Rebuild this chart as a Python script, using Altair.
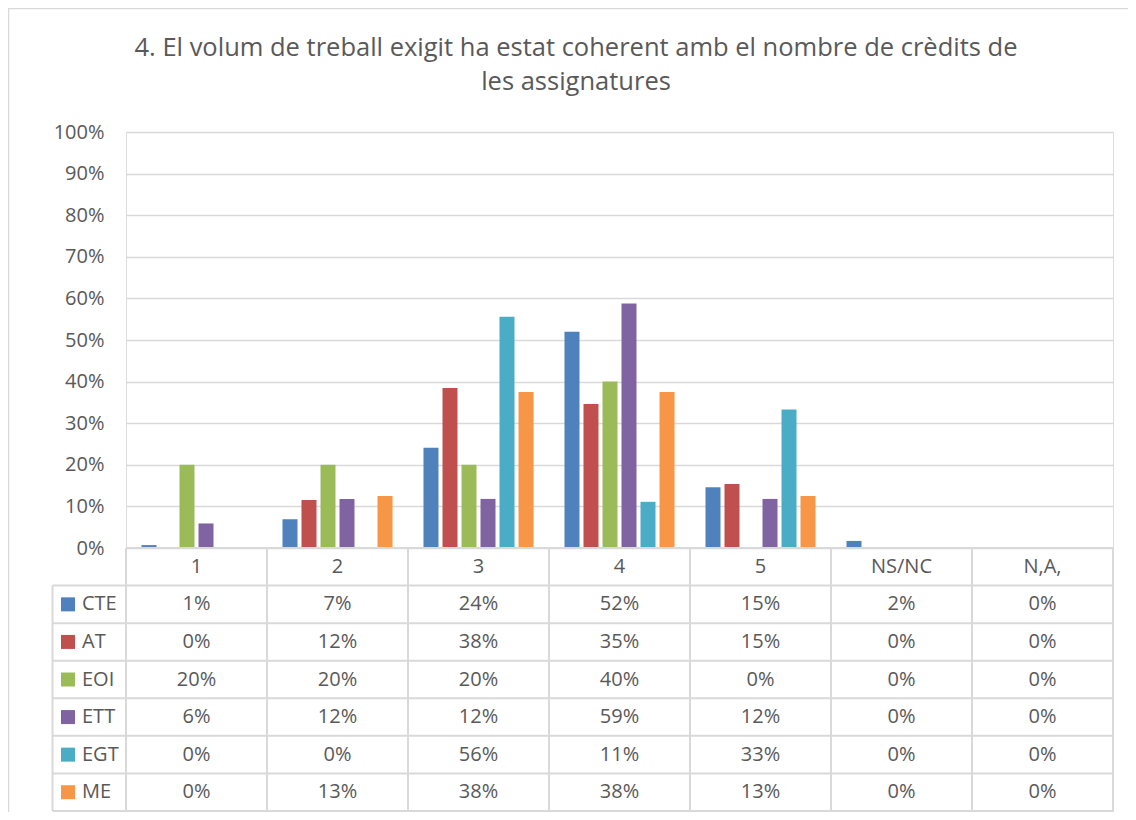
import altair as alt
import pandas as pd

# ---- data ----
categories = ["1", "2", "3", "4", "5", "NS/NC", "N,A,"]
series = ["CTE", "AT", "EOI", "ETT", "EGT", "ME"]
colors = ["#4F81BD", "#C0504D", "#9BBB59", "#8064A2", "#4BACC6", "#F79646"]

cte = [0.7, 6.9, 24.1, 52.0, 14.6, 1.7, 0.0]
at = [0.0, 11.54, 38.46, 34.62, 15.38, 0.0, 0.0]
eoi = [20.0, 20.0, 20.0, 40.0, 0.0, 0.0, 0.0]
ett = [5.9, 11.8, 11.8, 58.8, 11.8, 0.0, 0.0]
egt = [0.0, 0.0, 55.6, 11.1, 33.3, 0.0, 0.0]
me = [0.0, 12.5, 37.5, 37.5, 12.5, 0.0, 0.0]

title_lines = [
    "4. El volum de treball exigit ha estat coherent amb el nombre de crèdits de",
    "les assignatures",
]
y_ticks = [0, 0.1, 0.2, 0.3, 0.4, 0.5, 0.6, 0.7, 0.8, 0.9, 1.0]

# ---- tables built from the arrays ----
values_by_series = dict(zip(series, [cte, at, eoi, ett, egt, me]))
bars = pd.DataFrame(
    [
        {"cat": c, "series": s, "pct": v / 100.0}
        for s in series
        for c, v in zip(categories, values_by_series[s])
    ]
)

rows = ["hdr"] + series
table_rows = [{"row": "hdr", "cat": c, "label": c} for c in categories]
for s in series:
    for c, v in zip(categories, values_by_series[s]):
        table_rows.append({"row": s, "cat": c, "label": f"{int(v + 0.5)}%"})
table = pd.DataFrame(table_rows)
series_df = pd.DataFrame({"row": series, "series": series})
cat_df = pd.DataFrame({"cat": categories})

# ---- layout constants ----
W = 987
H = 680
Y0 = 416          # 0% line / top of the table
TBOT = 679        # bottom of the table
LEFTCOL = -73.5   # left edge of the series-name column
GRID = "#d9d9d9"
TXT = "#595959"
FONT = "Open Sans"

xscale = alt.Scale(domain=categories, type="band", paddingInner=0, paddingOuter=0)
rowscale = alt.Scale(domain=rows, type="band", range=[Y0, TBOT], paddingInner=0, paddingOuter=0)
colscale = alt.Scale(domain=series, range=colors)

one = pd.DataFrame({"k": [0]})

frame = alt.Chart(one).mark_rect(fill=None, stroke=GRID, strokeWidth=1.5).encode(
    x=alt.value(-117.5), x2=alt.value(W + 60), y=alt.value(-123.5), y2=alt.value(H + 60)
)

bar_layer = alt.Chart(bars).mark_bar().encode(
    x=alt.X("cat:N", sort=categories, scale=xscale, axis=None),
    xOffset=alt.XOffset(
        "series:N", sort=series,
        scale=alt.Scale(domain=series, paddingInner=0.2105, paddingOuter=0.815),
    ),
    y=alt.Y(
        "pct:Q",
        scale=alt.Scale(domain=[0, 1], range=[Y0, 0], nice=False, zero=True),
        axis=alt.Axis(
            values=y_ticks, format=".0%", title=None, domain=False, ticks=False,
            tickSize=0, labelPadding=22, labelFontSize=20, labelColor=TXT,
            labelFont=FONT, grid=True, gridColor=GRID, gridWidth=1.5,
        ),
    ),
    color=alt.Color("series:N", scale=colscale, legend=None),
)

table_text = alt.Chart(table).mark_text(
    font=FONT, fontSize=20, color=TXT, baseline="middle", align="center"
).encode(
    x=alt.X("cat:N", sort=categories, scale=xscale, axis=None, bandPosition=0.5),
    y=alt.Y("row:N", scale=rowscale, axis=None, bandPosition=0.5),
    text="label:N",
)

row_lines = alt.Chart(series_df).mark_rule(color=GRID, strokeWidth=2).encode(
    y=alt.Y("row:N", scale=rowscale, axis=None, bandPosition=0),
    x=alt.value(LEFTCOL), x2=alt.value(W),
)
top_line = alt.Chart(one).mark_rule(color=GRID, strokeWidth=2).encode(
    y=alt.value(Y0), x=alt.value(0), x2=alt.value(W)
)
bottom_line = alt.Chart(one).mark_rule(color=GRID, strokeWidth=2).encode(
    y=alt.value(TBOT), x=alt.value(LEFTCOL), x2=alt.value(W)
)
col_lines = alt.Chart(cat_df).mark_rule(color=GRID, strokeWidth=2).encode(
    x=alt.X("cat:N", sort=categories, scale=xscale, axis=None, bandPosition=0),
    y=alt.value(Y0), y2=alt.value(TBOT),
)
right_line = alt.Chart(one).mark_rule(color=GRID, strokeWidth=2).encode(
    x=alt.value(W), y=alt.value(Y0), y2=alt.value(TBOT)
)
left_line = alt.Chart(pd.DataFrame({"row": ["CTE"]})).mark_rule(color=GRID, strokeWidth=2).encode(
    x=alt.value(LEFTCOL),
    y=alt.Y("row:N", scale=rowscale, axis=None, bandPosition=0),
    y2=alt.value(TBOT),
)

swatches = alt.Chart(series_df).mark_square(size=196, opacity=1).encode(
    x=alt.value(-58),
    y=alt.Y("row:N", scale=rowscale, axis=None, bandPosition=0.5),
    color=alt.Color("series:N", scale=colscale, legend=None),
)
series_labels = alt.Chart(series_df).mark_text(
    font=FONT, fontSize=20, color=TXT, align="left", baseline="middle"
).encode(
    x=alt.value(-44),
    y=alt.Y("row:N", scale=rowscale, axis=None, bandPosition=0.5),
    text="series:N",
)

t1 = alt.Chart(pd.DataFrame({"t": [title_lines[0]]})).mark_text(
    font=FONT, fontSize=25.5, color=TXT, align="center", baseline="middle"
).encode(x=alt.value(450), y=alt.value(-84), text="t:N")
t2 = alt.Chart(pd.DataFrame({"t": [title_lines[1]]})).mark_text(
    font=FONT, fontSize=25.5, color=TXT, align="center", baseline="middle"
).encode(x=alt.value(450), y=alt.value(-50), text="t:N")

chart = alt.layer(
    frame, bar_layer, top_line, row_lines, bottom_line, col_lines, right_line,
    left_line, table_text, swatches, series_labels, t1, t2,
).resolve_scale(y="independent").properties(
    width=W, height=H,
    autosize=alt.AutoSizeParams(type="none"),
    padding={"left": 118, "top": 124, "right": 15, "bottom": 0},
).configure_view(stroke=None).configure(background="white")

chart.save("out.html", embed_options={"renderer": "svg", "actions": False})
